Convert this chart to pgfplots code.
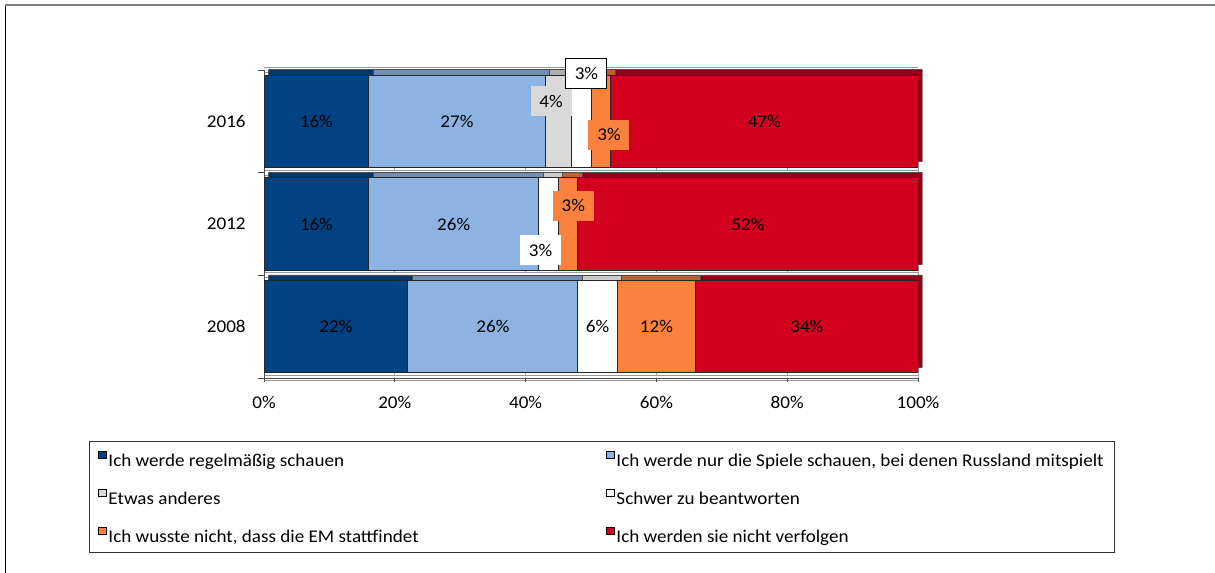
\documentclass[border=0pt]{standalone}
\usepackage{fontspec}
\setmainfont{Carlito}[FakeStretch=1.065]
\usepackage{pgfplots}
\usepackage{pgfplotstable}
\pgfplotsset{compat=1.18}

\definecolor{cDark}{RGB}{0,66,130}
\definecolor{cLight}{RGB}{141,179,226}
\definecolor{cGray}{RGB}{217,217,217}
\definecolor{cWhite}{RGB}{255,255,255}
\definecolor{cOrange}{RGB}{250,130,60}
\definecolor{cRed}{RGB}{210,0,30}

% shares per year (2008 = 0, 2012 = 1, 2016 = 2)
\pgfplotstableread{
pos a  b  c d e  f
0   22 26 0 6 12 34
1   16 26 0 3 3  52
2   16 27 4 3 3  47
}\shares

\pgfplotsset{
  base/.style={
    scale only axis, width=327bp, height=154bp,
    xmin=0, xmax=100, ymin=-0.5, ymax=2.5,
    anchor=south west,
    /pgf/number format/assume math mode=true,
  },
  bars/.style={
    base, hide axis, xbar stacked, bar width=46bp,
  },
  lab/.style={
    draw=none, mark=none, point meta=explicit,
    nodes near coords={\pgfmathprintnumber{\pgfplotspointmeta}\%},
    every node near coord/.style={anchor=center, text=black, inner sep=1bp,
      minimum width=20.5bp, minimum height=15bp},
  },
}

\begin{document}
\fontsize{9}{11}\selectfont
\begin{tikzpicture}
\path[use as bounding box] (0bp,0bp) rectangle (607.5bp,286.5bp);
\draw[black, line width=0.7bp] (2.75bp,0bp) -- (2.75bp,283.75bp);
\draw[gray, line width=1bp] (2.5bp,283.75bp) -- (607.5bp,283.75bp);

% grid, ticks, legend
\begin{axis}[base, at={(132bp,97.5bp)},
  axis lines*=left,
  axis line style={black!70, line width=0.5bp},
  tick align=outside,
  xtick={0,20,...,100},
  xticklabel={\pgfmathprintnumber{\tick}\%},
  major x tick style={black!70, line width=0.5bp},
  major tick length=2bp,
  ytick={0,1,2}, yticklabels={2008,2012,2016},
  major y tick style={draw=none},
  minor ytick={-0.5,0.5,1.5,2.5},
  minor tick length=3bp,
  minor y tick style={black!70, line width=0.5bp},
  yticklabel style={xshift=-4bp},
  xticklabel style={yshift=-4bp},
  xmajorgrids, yminorgrids,
  major grid style={gray!70, line width=0.4bp},
  minor grid style={draw=gray!80, double=white, line width=0.5bp, double distance=2bp},
  legend columns=2,
  legend cell align=left,
  legend image code/.code={\draw[#1, draw=black, line width=0.4bp] (0.4bp,0.2bp) rectangle (4bp,3.8bp);},
  legend style={at={(-0.2676,-0.2045)}, anchor=north west,
    draw=black!80, line width=0.5bp, inner xsep=4.5bp, inner ysep=4.2bp,
    /tikz/column sep=0bp, /tikz/row sep=10bp,
    nodes={text height=8.5bp, text depth=0.5bp, inner ysep=0bp, inner xsep=1bp}},
]
\addlegendimage{fill=cDark}
\addlegendentry{\makebox[248bp][l]{Ich werde regelmäßig schauen}}
\addlegendimage{fill=cLight}
\addlegendentry{Ich werde nur die Spiele schauen, bei denen Russland mitspielt}
\addlegendimage{fill=cGray}
\addlegendentry{\makebox[248bp][l]{Etwas anderes}}
\addlegendimage{fill=cWhite}
\addlegendentry{Schwer zu beantworten}
\addlegendimage{fill=cOrange}
\addlegendentry{\makebox[248bp][l]{Ich wusste nicht, dass die EM stattfindet}}
\addlegendimage{fill=cRed}
\addlegendentry{Ich werden sie nicht verfolgen}
\end{axis}

% 3D top faces
\begin{axis}[bars, at={(134.15bp,100.35bp)}]
\addplot[fill=cDark!85!black, draw=black!70, line width=0.3bp] table[x=a, y=pos] {\shares};
\addplot[fill=cLight!80!black, draw=black!70, line width=0.3bp] table[x=b, y=pos] {\shares};
\addplot[fill=cGray!80!black, draw=black!70, line width=0.3bp] table[x=c, y=pos] {\shares};
\addplot[fill=cWhite!80!black, draw=black!70, line width=0.3bp] table[x=d, y=pos] {\shares};
\addplot[fill=cOrange!75!black, draw=black!70, line width=0.3bp] table[x=e, y=pos] {\shares};
\addplot[fill=cRed!70!black, draw=black!70, line width=0.3bp] table[x=f, y=pos] {\shares};
\end{axis}

% front faces
\begin{axis}[bars, at={(132bp,97.5bp)}]
\addplot[fill=cDark, draw=black!85, line width=0.5bp] table[x=a, y=pos] {\shares};
\addplot[fill=cLight, draw=black!85, line width=0.5bp] table[x=b, y=pos] {\shares};
\addplot[fill=cGray, draw=black!85, line width=0.5bp] table[x=c, y=pos] {\shares};
\addplot[fill=cWhite, draw=black!85, line width=0.5bp] table[x=d, y=pos] {\shares};
\addplot[fill=cOrange, draw=black!85, line width=0.5bp] table[x=e, y=pos] {\shares};
\addplot[fill=cRed, draw=black!85, line width=0.5bp] table[x=f, y=pos] {\shares};
\end{axis}

% data labels
\begin{axis}[base, hide axis, at={(132bp,97.5bp)}]
\addplot[lab] table[meta=v] {
x    y     v
8    2     16
29.5 2     27
76.5 2     47
8    1     16
29   1     26
74   1     52
11   0     22
35   0     26
51   0     6
60   0     12
83   0     34
};
\addplot[lab, every node near coord/.append style={fill=cGray}] table[meta=v] {
x    y     v
43.9 2.195 4
};
\addplot[lab, every node near coord/.append style={fill=white, draw=black, line width=0.5bp}] table[meta=v] {
x    y     v
49.3 2.467 3
};
\addplot[lab, every node near coord/.append style={fill=cOrange}] table[meta=v] {
x    y     v
52.75 1.869 3
47.3  1.18  3
};
\addplot[lab, every node near coord/.append style={fill=white}] table[meta=v] {
x    y     v
42.3 0.747 3
};
\end{axis}
\end{tikzpicture}
\end{document}
